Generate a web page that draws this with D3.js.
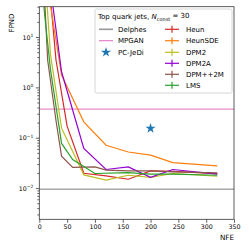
<!DOCTYPE html>
<html>
<head>
<meta charset="utf-8">
<script src="https://cdn.jsdelivr.net/npm/d3@7"></script>
<style>
  body { margin: 0; background: #fff; }
  text { font-family: "DejaVu Sans", sans-serif; }
</style>
</head>
<body>
<div id="chart"></div>
<script>
// data
var xTicks = [0, 50, 100, 150, 200, 250, 300, 350];
var yTicks = [10, 1, 0.1, 0.01];
var yTickLabels = ["1", "0", "\u22121", "\u22122"];

var delphesValue = 0.0095;
var mpganValue = 0.37;
var pcjediPoint = [200, 0.153];

var heunNfe = [20, 30, 50, 80, 120, 160, 200, 240, 320];
var heunFpnd = [60, 3.5, 0.17, 0.0197, 0.0175, 0.015, 0.022, 0.0215, 0.0194];
var heunSdeNfe = [20, 40, 80, 120, 160, 200, 240, 320];
var heunSdeFpnd = [43, 1.76, 0.207, 0.071, 0.052, 0.045, 0.032, 0.0277];
var dpm2Nfe = [10, 20, 40, 80, 120, 160, 200, 240, 320];
var dpm2Fpnd = [200, 4.6, 0.155, 0.0183, 0.0144, 0.018, 0.0163, 0.0195, 0.0172];
var dpm2aNfe = [20, 40, 80, 120, 160, 200, 240, 320];
var dpm2aFpnd = [98, 2.04, 0.061, 0.0234, 0.0263, 0.0163, 0.0234, 0.0189];
var dpmpp2mNfe = [10, 15, 30, 40, 60, 100, 120, 160, 200, 240, 320];
var dpmpp2mFpnd = [45, 3.5, 0.22, 0.043, 0.0257, 0.0263, 0.0227, 0.022, 0.022, 0.021, 0.02];
var lmsNfe = [5, 10, 20, 40, 60, 100, 160, 200, 240, 320];
var lmsFpnd = [110, 25, 2.3, 0.077, 0.037, 0.0195, 0.0203, 0.019, 0.019, 0.018];

var samplerNames = ["Heun", "HeunSDE", "DPM2", "DPM2A", "DPM++2M", "LMS"];
var samplerColors = ["#d62728", "#ff7f0e", "#bcbd22", "#9400d3", "#8c564b", "#2ca02c"];

var series = [
  { name: "Heun", x: heunNfe, y: heunFpnd },
  { name: "HeunSDE", x: heunSdeNfe, y: heunSdeFpnd },
  { name: "DPM2", x: dpm2Nfe, y: dpm2Fpnd },
  { name: "DPM2A", x: dpm2aNfe, y: dpm2aFpnd },
  { name: "DPM++2M", x: dpmpp2mNfe, y: dpmpp2mFpnd },
  { name: "LMS", x: lmsNfe, y: lmsFpnd }
];

var svgWidth = 249, svgHeight = 249;
var margin = { top: 6.7, right: 15, bottom: 29.7, left: 39.3 };
var width = svgWidth - margin.left - margin.right;
var height = svgHeight - margin.top - margin.bottom;

var svg = d3.select("#chart").append("svg")
  .attr("width", svgWidth)
  .attr("height", svgHeight);

svg.append("defs").append("clipPath").attr("id", "plotClip")
  .append("rect").attr("width", width).attr("height", height);

var chartGroup = svg.append("g")
  .attr("transform", `translate(${margin.left}, ${margin.top})`);

var xScale = d3.scaleLinear().domain([0, 350]).range([0, width]);
var yScale = d3.scaleLog().domain([0.0024, 40]).range([height, 0]);

var color = d3.scaleOrdinal().domain(samplerNames).range(samplerColors);

// reference lines
var plot = chartGroup.append("g").attr("clip-path", "url(#plotClip)");

plot.append("line")
  .attr("x1", 0).attr("x2", width)
  .attr("y1", yScale(delphesValue)).attr("y2", yScale(delphesValue))
  .attr("stroke", "#999").attr("stroke-width", 1.6).attr("opacity", 0.85);

plot.append("line")
  .attr("x1", 0).attr("x2", width)
  .attr("y1", yScale(mpganValue)).attr("y2", yScale(mpganValue))
  .attr("stroke", "#e377c2").attr("stroke-width", 1.1).attr("opacity", 0.85);

// sampler curves
var line = d3.line()
  .x(d => xScale(d[0]))
  .y(d => yScale(d[1]));

plot.selectAll(".sampler")
  .data(series)
  .enter()
  .append("path")
  .attr("class", "sampler")
  .attr("d", s => line(s.x.map((v, i) => [v, s.y[i]])))
  .attr("fill", "none")
  .attr("stroke", s => color(s.name))
  .attr("stroke-width", 1.2);

// PC-JeDi star
var star = d3.symbol().type(d3.symbolStar).size(32);
chartGroup.append("path")
  .attr("d", star())
  .attr("transform", `translate(${xScale(pcjediPoint[0])}, ${yScale(pcjediPoint[1])})`)
  .attr("fill", "#1f77b4");

// axes
var bottomAxis = d3.axisBottom(xScale).tickValues(xTicks).tickSize(3.5).tickPadding(2);
var xAxisG = chartGroup.append("g")
  .attr("transform", `translate(0, ${height})`)
  .call(bottomAxis);

var minorTicks = [];
[0.001, 0.01, 0.1, 1, 10].forEach(function(dec) {
  for (var k = 2; k <= 9; k++) {
    var v = dec * k;
    if (v >= 0.0024 && v <= 40) minorTicks.push(v);
  }
});

chartGroup.append("g")
  .call(d3.axisLeft(yScale).tickValues(minorTicks).tickSize(2).tickFormat(""));

var yAxisG = chartGroup.append("g")
  .call(d3.axisLeft(yScale).tickValues(yTicks).tickSize(3.5).tickPadding(2).tickFormat(""));

yAxisG.selectAll(".tick").each(function(d, i) {
  var t = d3.select(this).append("text")
    .attr("x", -6)
    .attr("dy", "0.32em")
    .attr("text-anchor", "end")
    .attr("fill", "#000")
    .attr("font-size", 6.3);
  t.append("tspan").text("10");
  t.append("tspan").attr("dy", "-0.55em").attr("font-size", 4.4).text(yTickLabels[i]);
});

chartGroup.selectAll(".domain").attr("stroke", "none");
chartGroup.selectAll(".tick line").attr("stroke", "#222").attr("stroke-width", 0.7);
xAxisG.selectAll("text").attr("font-size", 6.3).attr("fill", "#000").attr("font-family", "DejaVu Sans");

// frame
chartGroup.append("rect")
  .attr("width", width).attr("height", height)
  .attr("fill", "none").attr("stroke", "#333").attr("stroke-width", 0.8);

// axis labels
svg.append("text")
  .attr("transform", "translate(14, 13.5) rotate(-90)")
  .attr("text-anchor", "end")
  .attr("font-size", 7)
  .text("FPND");

svg.append("text")
  .attr("x", margin.left + width)
  .attr("y", 240)
  .attr("text-anchor", "end")
  .attr("font-size", 7.2)
  .text("NFE");

// legend
var legend = svg.append("g");
legend.append("rect")
  .attr("x", 95).attr("y", 9).attr("width", 137).attr("height", 84)
  .attr("rx", 1.5)
  .attr("fill", "#fff").attr("fill-opacity", 0.8)
  .attr("stroke", "#ccc").attr("stroke-width", 0.8);

var title = legend.append("text").attr("x", 98).attr("y", 19).attr("font-size", 7);
title.append("tspan").text("Top quark jets, ");
title.append("tspan").attr("font-style", "italic").text("N");
title.append("tspan").attr("font-size", 5).attr("dy", "0.3em").text("const");
title.append("tspan").attr("dy", "-0.3em").text(" = 30");

var rowY = [29.3, 40.7, 52.3, 63.3, 74.3, 85.3];

legend.append("line").attr("x1", 99).attr("x2", 113).attr("y1", rowY[0]).attr("y2", rowY[0])
  .attr("stroke", "#999").attr("stroke-width", 1.6);
legend.append("line").attr("x1", 99).attr("x2", 113).attr("y1", rowY[1]).attr("y2", rowY[1])
  .attr("stroke", "#e377c2").attr("stroke-width", 1.1);
legend.append("path").attr("d", star())
  .attr("transform", `translate(106, ${rowY[2]})`).attr("fill", "#1f77b4");

["Delphes", "MPGAN", "PC-JeDi"].forEach(function(name, i) {
  legend.append("text").attr("x", 118).attr("y", rowY[i]).attr("dy", "0.35em")
    .attr("font-size", 7).text(name);
});

samplerNames.forEach(function(name, i) {
  var g = legend.append("g").attr("transform", `translate(0, ${rowY[i]})`);
  g.append("line").attr("x1", 165).attr("x2", 179).attr("stroke", color(name)).attr("stroke-width", 1.2);
  g.append("line").attr("x1", 172).attr("x2", 172).attr("y1", -3.5).attr("y2", 3.5)
    .attr("stroke", color(name)).attr("stroke-width", 1.2);
  g.append("text").attr("x", 186).attr("dy", "0.35em").attr("font-size", 7).text(name);
});
</script>
</body>
</html>
